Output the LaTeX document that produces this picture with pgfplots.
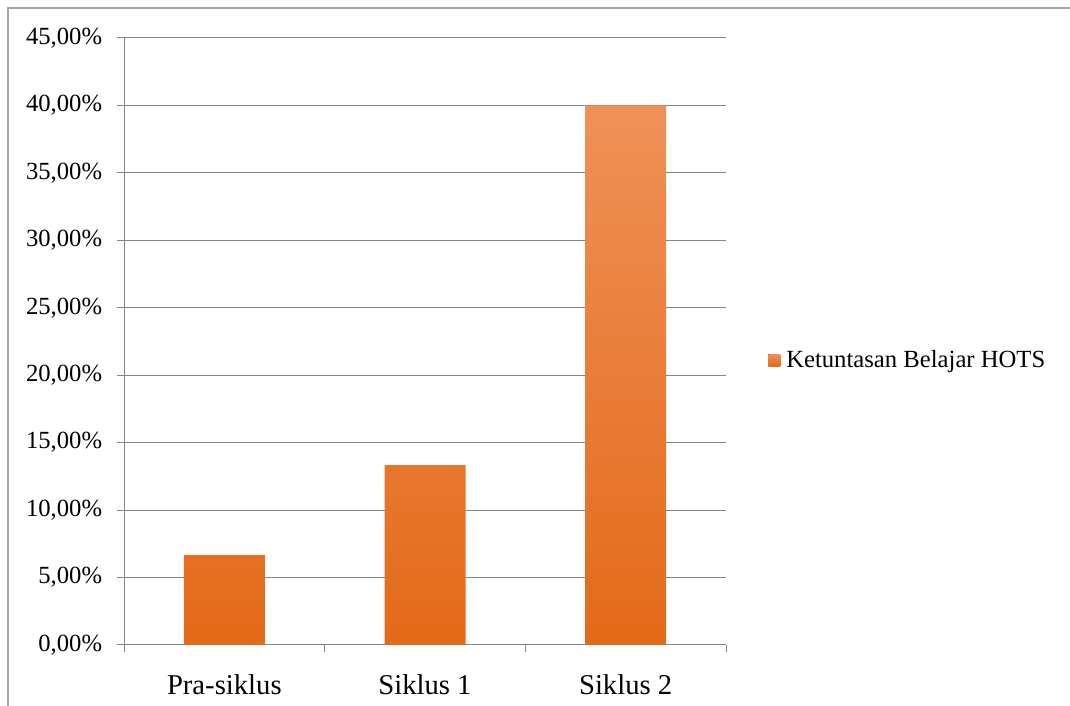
\documentclass[border=0pt]{standalone}
\usepackage{pgfplots}
\pgfplotsset{compat=1.18}
\usepackage{fontspec}
\setmainfont{Liberation Serif}
\definecolor{gridc}{RGB}{134,134,134}
\definecolor{framec}{RGB}{165,165,165}
\definecolor{btop}{RGB}{240,144,88}
\definecolor{bmid}{RGB}{246,128,40}
\definecolor{bbot}{RGB}{227,106,24}
\newcommand\yl[1]{\fontsize{18.5}{22}\selectfont #1}
\begin{document}
\begin{tikzpicture}
\useasboundingbox (0,0) rectangle (802.5pt,529.5pt);
\draw[framec, line width=1.1pt] (6pt,-2pt) -- (6pt,523.5pt) -- (805pt,523.5pt);
\begin{axis}[
  at={(93pt,45.75pt)}, anchor=south west,
  scale only axis, width=451.5pt, height=455.25pt,
  xmin=-0.5, xmax=2.5, ymin=0, ymax=45,
  axis x line=bottom, axis y line=left,
  axis line style={-, gridc, line width=0.75pt},
  ytick={0,5,...,45},
  yticklabels={{\yl{0,00\%}},{\yl{5,00\%}},{\yl{10,00\%}},{\yl{15,00\%}},{\yl{20,00\%}},{\yl{25,00\%}},{\yl{30,00\%}},{\yl{35,00\%}},{\yl{40,00\%}},{\yl{45,00\%}}},
  xtick={0,1,2},
  xticklabels={Pra-siklus,Siklus 1,Siklus 2},
  minor xtick={-0.5,0.5,1.5,2.5},
  major x tick style={draw=none},
  tick align=outside,
  major tick length=5.25pt, minor tick length=5.25pt,
  tick style={gridc, line width=0.75pt},
  ymajorgrids, grid style={gridc, line width=0.75pt},
  yticklabel style={font=\fontsize{18.5}{22}\selectfont, anchor=east, inner sep=0pt, xshift=-11pt},
  xticklabel style={font=\fontsize{21.5}{25}\selectfont, anchor=base, yshift=-32.25pt},
  legend style={at={(1.0698,0.4695)}, anchor=west, draw=none, fill=none, inner sep=0pt,
    font=\fontsize{18.5}{22}\selectfont, nodes={inner sep=0pt}},
  legend cell align=left,
  legend image code/.code={\fill[#1] (0pt,-4.5pt) rectangle (9pt,4.5pt); \path (13.5pt,0pt);},
]
\addplot[ybar, bar width=60.75pt, draw=none, top color=btop, middle color=bmid, bottom color=bbot]
  coordinates {(0,6.67) (1,13.33) (2,40.00)};
\addlegendentry{Ketuntasan Belajar HOTS}
\end{axis}
\end{tikzpicture}
\end{document}
